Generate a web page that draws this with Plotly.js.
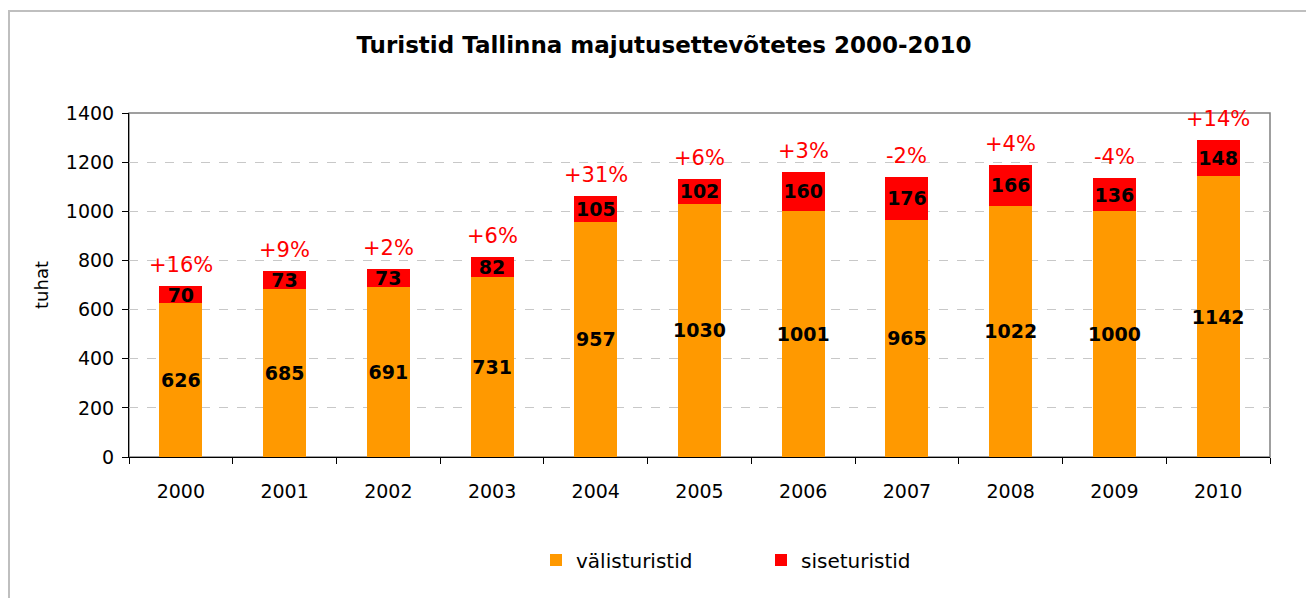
<!DOCTYPE html>
<html>
<head>
<meta charset="utf-8">
<script src="https://cdn.plot.ly/plotly-3.0.1.min.js"></script>
<style>
html,body{margin:0;padding:0;background:#fff;}
#chart{width:1306px;height:598px;}
</style>
</head>
<body>
<div id="chart"></div>
<script>
const years = ['2000','2001','2002','2003','2004','2005','2006','2007','2008','2009','2010'];
const foreignTourists = [626, 685, 691, 731, 957, 1030, 1001, 965, 1022, 1000, 1142];
const domesticTourists = [70, 73, 73, 82, 105, 102, 160, 176, 166, 136, 148];
const changeLabels = ['+16%', '+9%', '+2%', '+6%', '+31%', '+6%', '+3%', '-2%', '+4%', '-4%', '+14%'];
const yTicks = [0, 200, 400, 600, 800, 1000, 1200, 1400];

const FONT = 'DejaVu Sans, Verdana, sans-serif';
const totals = foreignTourists.map((v, i) => v + domesticTourists[i]);

const ml = 129, mr = 36, mt = 113, mb = 141, W = 1306, H = 598;
const pw = W - ml - mr, ph = H - mt - mb;
const px = x => (x - ml) / pw;
const py = y => (H - mb - y) / ph;

const barText = {family: FONT, size: 19, color: '#000', weight: 'bold'};

const traces = [
  {
    type: 'bar', name: 'välisturistid', x: years, y: foreignTourists,
    marker: {color: '#FF9900'},
    text: foreignTourists.map(String), textposition: 'inside', insidetextanchor: 'middle',
    textangle: 0, constraintext: 'none', textfont: barText, hoverinfo: 'x+y+name'
  },
  {
    type: 'bar', name: 'siseturistid', x: years, y: domesticTourists,
    marker: {color: '#FF0000'},
    text: domesticTourists.map(String), textposition: 'inside', insidetextanchor: 'middle',
    textangle: 0, constraintext: 'none', textfont: barText, hoverinfo: 'x+y+name'
  }
];

const annotations = years.map((yr, i) => ({
  x: i, y: totals[i], xref: 'x', yref: 'y', text: changeLabels[i],
  showarrow: false, yanchor: 'middle', yshift: 21,
  font: {family: FONT, size: 21, color: '#FF0000'}
}));

const layout = {
  width: W, height: H,
  margin: {l: ml, r: mr, t: mt, b: mb, pad: 0},
  paper_bgcolor: '#fff', plot_bgcolor: '#fff',
  barmode: 'stack', bargap: 0.585,
  title: {
    text: 'Turistid Tallinna majutusettevõtetes 2000-2010',
    font: {family: FONT, size: 23, color: '#000', weight: 'bold'},
    x: 664 / W, xanchor: 'center', xref: 'container', y: 1 - 45 / H, yanchor: 'middle', yref: 'container'
  },
  font: {family: FONT, size: 19, color: '#000'},
  xaxis: {
    type: 'category', range: [-0.5, years.length - 0.5], autorange: false,
    showline: true, linecolor: '#000', linewidth: 1,
    ticks: 'outside', tickson: 'boundaries', ticklen: 6, tickcolor: '#000',
    ticklabelstandoff: 17,
    tickfont: {family: FONT, size: 19, color: '#000'}, showgrid: false
  },
  yaxis: {
    range: [0, 1400], autorange: false, tickvals: yTicks, ticktext: yTicks.map(String),
    showline: true, linecolor: '#000', linewidth: 1,
    ticks: 'outside', ticklen: 6, tickcolor: '#000',
    ticklabelstandoff: 4,
    tickfont: {family: FONT, size: 19, color: '#000'},
    showgrid: true, gridcolor: '#c8c8c8', griddash: 'dash', gridwidth: 1,
    zeroline: false,
    title: {text: 'tuhat', font: {family: FONT, size: 18, color: '#000'}, standoff: 12}
  },
  showlegend: true,
  legend: {
    orientation: 'h', x: px(536), xanchor: 'left', y: py(560), yanchor: 'middle',
    font: {family: FONT, size: 20, color: '#000'},
    entrywidth: 180, entrywidthmode: 'pixels', traceorder: 'normal'
  },
  annotations: annotations,
  shapes: [
    {type: 'rect', xref: 'paper', yref: 'paper', x0: 0, x1: 1, y0: 0, y1: 1,
     line: {color: '#808080', width: 1.5}, layer: 'below'},
    {type: 'rect', xref: 'paper', yref: 'paper', x0: px(9), x1: px(1310), y0: py(602), y1: py(11),
     line: {color: '#bfbfbf', width: 2}, layer: 'below'}
  ]
};

Plotly.newPlot('chart', traces, layout, {displayModeBar: false, staticPlot: true});
</script>
</body>
</html>
